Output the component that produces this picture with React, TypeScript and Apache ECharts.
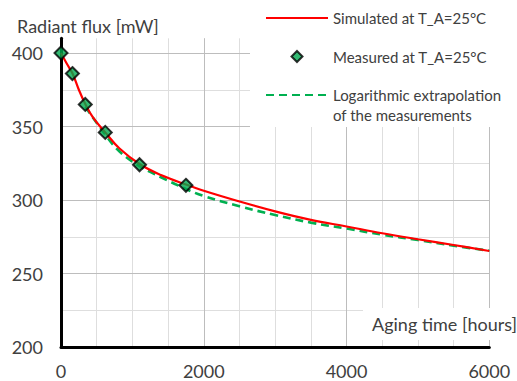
import React, { useEffect, useRef } from "react";
import * as echarts from "echarts";

// Simulated radiant flux (red line)
const simHours = [0, 80, 160, 250, 340, 450, 620, 820, 1100, 1400, 1750, 2000, 2500, 3000, 3500, 4000, 4500, 5000, 5500, 6000];
const simFlux = [400, 392.8, 386.2, 375, 365.3, 356, 346, 335, 324.5, 317, 310.5, 306.3, 299, 292.3, 286.5, 282, 277.4, 273.3, 269.4, 265.3];

// Measured points (green diamonds)
const measHours = [0, 160, 340, 620, 1100, 1750];
const measFlux = [400, 386, 365, 346, 324, 310];

// Logarithmic extrapolation (green dashed)
const logHours = [340, 620, 820, 1100, 1400, 1750, 2000, 2500, 3000, 3500, 4000, 4500, 5000, 5500, 6000];
const logFlux = [363.5, 344.5, 333, 323, 315.5, 307.5, 302.7, 295.7, 289.8, 284.6, 280.6, 276.4, 272.8, 268.9, 265.5];

// Axis ticks
const xTicks = { min: 0, max: 6000, interval: 2000, minorInterval: 500 };
const yTicks = { min: 200, max: 400, interval: 50, minorInterval: 25 };

const SIM = "Simulated at T_A=25°C";
const MEAS = "Measured at T_A=25°C";
const LOG = "Logarithmic extrapolation of the measurements";
const LOG_LINE1 = "Logarithmic extrapolation";
const LOG_LINE2 = "of the measurements";

const FONT = "Lato, 'Open Sans', sans-serif";
const TXT = "#404040";
const MAJOR = "#BDBDBD";
const MINOR = "#DEDEDE";

const zip = (a: number[], b: number[]) => a.map((v, i) => [v, b[i]]);

export default function App() {
  const ref = useRef<HTMLDivElement>(null);
  useEffect(() => {
    if (!ref.current) return;
    const chart = echarts.init(ref.current, undefined, { renderer: "svg" });
    const gridPos = { left: 61, right: 27.7, bottom: 34 };
    const hidden = {
      axisLine: { show: false },
      axisTick: { show: false },
      axisLabel: { show: false },
    };
    chart.setOption({
      animation: false,
      backgroundColor: "#fff",
      textStyle: { fontFamily: FONT },
      title: [
        {
          text: "Radiant flux [mW]",
          left: 12,
          top: 10,
          textStyle: { fontFamily: FONT, fontSize: 18, fontWeight: "normal", color: TXT, lineHeight: 22 },
        },
        {
          text: "Aging time [hours]",
          left: 363,
          top: 308,
          padding: [5, 10, 5, 9],
          backgroundColor: "#fff",
          textStyle: { fontFamily: FONT, fontSize: 18, fontWeight: "normal", color: TXT, lineHeight: 22 },
        },
        {
          text: LOG_LINE2,
          left: 328,
          top: 100,
          z: 8,
          textStyle: { fontFamily: FONT, fontSize: 15, fontWeight: "normal", color: TXT, lineHeight: 20 },
        },
      ],
      legend: {
        orient: "vertical",
        left: 250,
        top: 0,
        z: 4,
        padding: [8, 5, 22, 15],
        backgroundColor: "#fff",
        itemWidth: 62,
        itemHeight: 11,
        itemGap: 18.5,
        symbolKeepAspect: true,
        textStyle: { fontFamily: FONT, fontSize: 15, color: TXT, lineHeight: 20 },
        formatter: (name: string) => (name === LOG ? LOG_LINE1 : name),
        data: [
          { name: SIM, itemStyle: { color: "rgba(0,0,0,0)", borderWidth: 0 } },
          { name: MEAS, icon: "path://M5 0L10 5L5 10L0 5Z" },
          { name: LOG, itemStyle: { color: "rgba(0,0,0,0)", borderWidth: 0 } },
        ],
      },
      grid: [
        { ...gridPos, top: 38.3 },
        { ...gridPos, top: 53 },
      ],
      xAxis: [
        {
          gridIndex: 0,
          type: "value",
          min: xTicks.min,
          max: xTicks.max,
          interval: xTicks.interval,
          z: 3,
          axisLine: { show: true, onZero: false, lineStyle: { color: "#000", width: 3 } },
          axisTick: { show: false },
          axisLabel: {
            fontFamily: FONT,
            fontSize: 18,
            lineHeight: 18,
            color: TXT,
            margin: 15,
            formatter: (v: number) => String(v),
          },
          splitLine: { show: true, lineStyle: { color: MAJOR, width: 1 } },
        },
        {
          gridIndex: 1,
          type: "value",
          min: xTicks.min,
          max: xTicks.max,
          show: false,
        },
        {
          gridIndex: 0,
          type: "value",
          position: "top",
          min: xTicks.min,
          max: xTicks.max,
          interval: xTicks.minorInterval,
          z: 0,
          ...hidden,
          splitLine: { show: true, lineStyle: { color: MINOR, width: 1 } },
        },
      ],
      yAxis: [
        {
          gridIndex: 0,
          type: "value",
          min: yTicks.min,
          max: 410,
          interval: yTicks.interval,
          z: 3,
          axisLine: { show: true, onZero: false, lineStyle: { color: "#000", width: 3 } },
          axisTick: { show: false },
          axisLabel: { show: false },
          splitLine: { show: false },
        },
        {
          gridIndex: 1,
          type: "value",
          min: yTicks.min,
          max: yTicks.max,
          interval: yTicks.interval,
          z: 1,
          axisLine: { show: false },
          axisTick: { show: false },
          axisLabel: { fontFamily: FONT, fontSize: 18, color: TXT, margin: 18 },
          splitLine: { show: true, lineStyle: { color: MAJOR, width: 1 } },
        },
        {
          gridIndex: 1,
          type: "value",
          position: "right",
          min: yTicks.min,
          max: yTicks.max,
          interval: yTicks.minorInterval,
          z: 0,
          ...hidden,
          splitLine: { show: true, lineStyle: { color: MINOR, width: 1 } },
        },
      ],
      series: [
        {
          name: SIM,
          type: "line",
          xAxisIndex: 0,
          yAxisIndex: 0,
          data: zip(simHours, simFlux),
          symbol: "none",
          smooth: 0.4,
          lineStyle: { color: "#FF0000", width: 2.2 },
          itemStyle: { color: "#FF0000" },
          z: 5,
        },
        {
          name: LOG,
          type: "line",
          xAxisIndex: 0,
          yAxisIndex: 0,
          data: zip(logHours, logFlux),
          symbol: "none",
          smooth: 0.4,
          lineStyle: { color: "#00B050", width: 2.6, type: [8, 5] },
          itemStyle: { color: "#00B050" },
          z: 4,
        },
        {
          name: MEAS,
          type: "scatter",
          xAxisIndex: 0,
          yAxisIndex: 0,
          data: zip(measHours, measFlux),
          symbol: "diamond",
          symbolSize: 13,
          itemStyle: { color: "#00A84F", borderColor: "#000", borderWidth: 2 },
          z: 10,
        },
      ],
    });
    return () => chart.dispose();
  }, []);
  return (
    <div
      ref={ref}
      style={{ position: "fixed", left: 0, top: 0, width: 517, height: 381 }}
    />
  );
}
